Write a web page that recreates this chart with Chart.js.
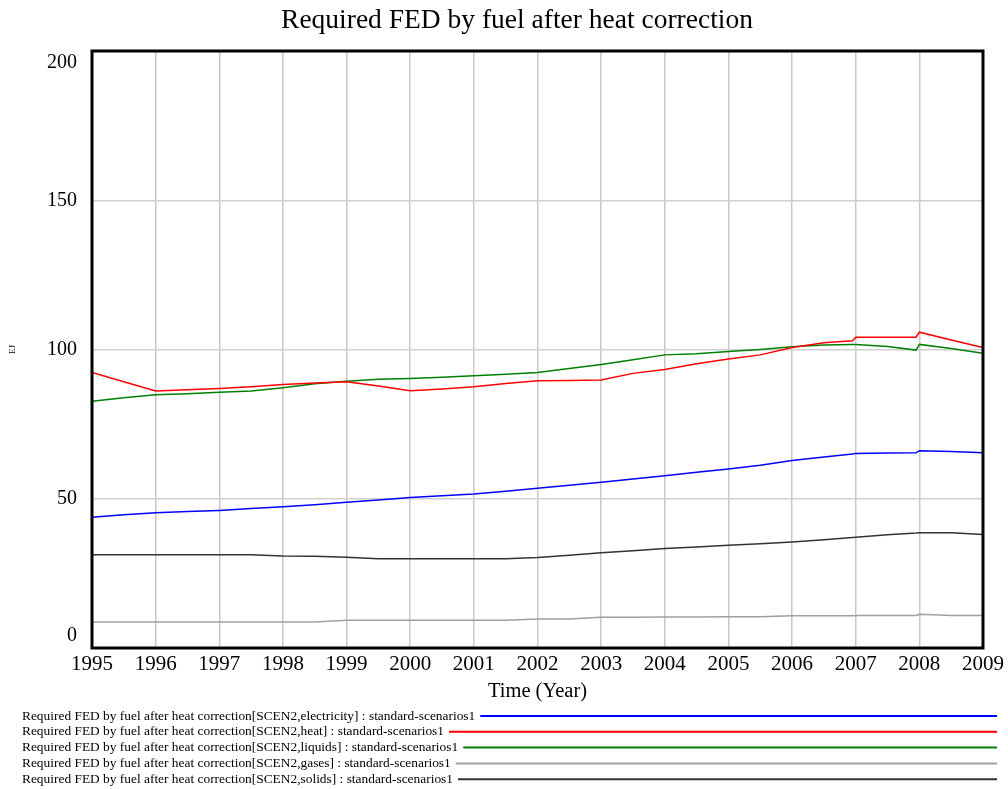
<!DOCTYPE html>
<html>
<head>
<meta charset="utf-8">
<script src="https://cdn.jsdelivr.net/npm/chart.js@4.4.1/dist/chart.umd.min.js"></script>
<style>
  body { margin: 0; background: #fff; }
  canvas { display: block; }
</style>
</head>
<body>
<canvas id="fedChart" width="1008" height="789"></canvas>
<script>
// time axis (years) shared by every series
const years = [1995, 1995.5, 1996, 1996.5, 1997, 1997.5, 1998, 1998.5, 1999, 1999.5,
    2000, 2000.5, 2001, 2001.5, 2002, 2002.5, 2003, 2003.5, 2004, 2004.5,
    2005, 2005.5, 2006, 2006.5, 2006.95, 2007, 2007.5, 2007.95, 2008, 2008.5, 2009];

const electricity = [43.8, 44.6, 45.3, 45.7, 46.1, 46.7, 47.3, 48.0, 48.8, 49.6,
    50.4, 51.0, 51.6, 52.5, 53.5, 54.5, 55.5, 56.6, 57.7, 58.9,
    60.0, 61.2, 62.8, 64.0, 65.0, 65.2, 65.3, 65.4, 66.1, 65.8, 65.4];
const heat = [92.3, 89.2, 86.1, 86.5, 86.9, 87.5, 88.3, 88.8, 89.2, 87.8,
    86.2, 86.8, 87.5, 88.6, 89.5, 89.6, 89.8, 92.0, 93.3, 95.2,
    96.8, 98.2, 100.7, 102.3, 102.9, 104.1, 104.1, 104.1, 105.8, 103.2, 100.7];
const liquids = [82.7, 83.8, 84.8, 85.2, 85.7, 86.1, 87.2, 88.5, 89.4, 90.0,
    90.3, 90.7, 91.2, 91.7, 92.3, 93.6, 95.0, 96.6, 98.2, 98.6,
    99.3, 100.0, 100.9, 101.5, 101.7, 101.7, 101.0, 99.8, 101.7, 100.3, 98.7];
const gases = [8.7, 8.7, 8.7, 8.7, 8.7, 8.7, 8.7, 8.7, 9.3, 9.3,
    9.3, 9.3, 9.3, 9.3, 9.7, 9.7, 10.3, 10.3, 10.4, 10.4,
    10.5, 10.5, 10.8, 10.8, 10.8, 10.9, 10.9, 10.9, 11.3, 10.9, 10.9];
const solids = [31.2, 31.2, 31.2, 31.2, 31.2, 31.2, 30.8, 30.7, 30.4, 29.9,
    29.9, 29.9, 29.9, 29.9, 30.3, 31.1, 31.9, 32.6, 33.3, 33.8,
    34.4, 34.9, 35.5, 36.3, 37.0, 37.1, 37.9, 38.5, 38.6, 38.6, 38.0];

const yTicks = [0, 50, 100, 150, 200];
const seriesNames = ['electricity', 'heat', 'liquids', 'gases', 'solids'];
const seriesColors = ['#0000ff', '#ff0000', '#008000', '#a0a0a0', '#333333'];
const seriesValues = [electricity, heat, liquids, gases, solids];

const serif = '"Liberation Serif", "DejaVu Serif", serif';

const datasets = seriesNames.map((name, i) => ({
    label: 'Required FED by fuel after heat correction[SCEN2,' + name + '] : standard-scenarios1',
    data: years.map((t, j) => ({ x: t, y: seriesValues[i][j] })),
    borderColor: seriesColors[i],
    backgroundColor: seriesColors[i],
    borderWidth: 1.5,
    pointRadius: 0,
    tension: 0,
    fill: false
}));

// title, y labels, frame and the long legend are drawn here
const decorations = {
    id: 'decorations',
    afterDraw(chart) {
        const ctx = chart.ctx;
        const area = chart.chartArea;
        const yScale = chart.scales.y;
        ctx.save();

        // frame
        ctx.strokeStyle = '#000';
        ctx.lineWidth = 3;
        ctx.strokeRect(area.left, area.top, area.right - area.left, area.bottom - area.top);

        // title
        ctx.fillStyle = '#000';
        ctx.font = '27.5px ' + serif;
        ctx.textAlign = 'center';
        ctx.textBaseline = 'middle';
        ctx.fillText('Required FED by fuel after heat correction', 517, 21);

        // y tick labels (ends pulled inside the frame)
        ctx.font = '20px ' + serif;
        ctx.textAlign = 'right';
        yTicks.forEach(v => {
            let y = yScale.getPixelForValue(v);
            if (v === yScale.min) y -= 12;
            if (v === yScale.max) y += 12;
            ctx.fillText(String(v), 77, y);
        });

        // y axis unit
        ctx.save();
        ctx.translate(13, yScale.getPixelForValue(100));
        ctx.rotate(-Math.PI / 2);
        ctx.font = '9px ' + serif;
        ctx.textAlign = 'center';
        ctx.fillText('EJ', 0, 0);
        ctx.restore();

        // x axis title
        ctx.font = '20.5px ' + serif;
        ctx.textAlign = 'center';
        ctx.fillText('Time (Year)', (area.left + area.right) / 2, 692);

        // legend
        ctx.font = '13.4px ' + serif;
        ctx.textAlign = 'left';
        chart.data.datasets.forEach((ds, i) => {
            const y = 716 + i * 15.8;
            ctx.fillStyle = '#000';
            ctx.fillText(ds.label, 22, y);
            const x0 = 22 + ctx.measureText(ds.label).width + 5;
            ctx.strokeStyle = ds.borderColor;
            ctx.lineWidth = 2;
            ctx.beginPath();
            ctx.moveTo(x0, y);
            ctx.lineTo(997, y);
            ctx.stroke();
        });
        ctx.restore();
    }
};

new Chart(document.getElementById('fedChart'), {
    type: 'line',
    data: { datasets: datasets },
    options: {
        responsive: false,
        animation: false,
        layout: { padding: { top: 51, right: 23, left: 0, bottom: 0 } },
        plugins: {
            legend: { display: false },
            title: { display: false },
            tooltip: { enabled: false }
        },
        scales: {
            x: {
                type: 'linear',
                min: 1995,
                max: 2009,
                ticks: {
                    stepSize: 1,
                    color: '#000',
                    font: { family: serif, size: 21 },
                    padding: 4,
                    maxRotation: 0,
                    callback: v => String(v)
                },
                grid: { color: '#c8c8c8', lineWidth: 1.5, drawTicks: false },
                border: { display: false },
                afterFit: scale => { scale.height = 141; }
            },
            y: {
                min: 0,
                max: 200,
                ticks: { display: false, stepSize: 50 },
                grid: { color: '#d0d0d0', lineWidth: 1.5, drawTicks: false },
                border: { display: false },
                afterFit: scale => { scale.width = 92; }
            }
        }
    },
    plugins: [decorations]
});
</script>
</body>
</html>
